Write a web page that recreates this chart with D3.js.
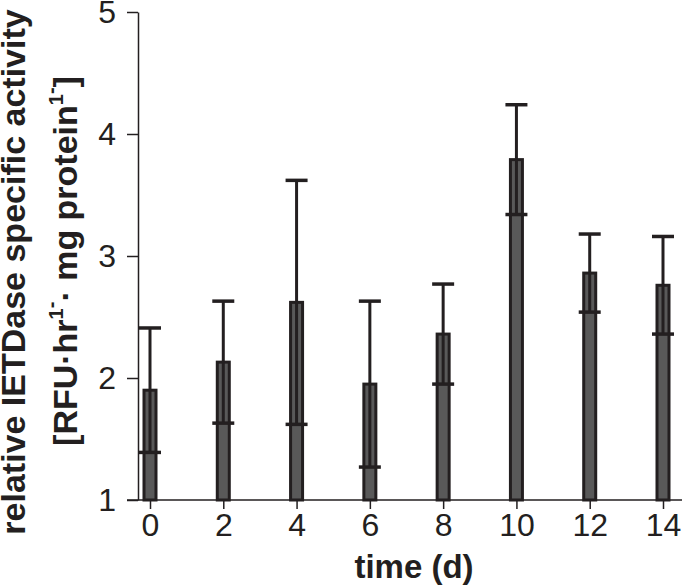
<!DOCTYPE html>
<html>
<head>
<meta charset="utf-8">
<script src="https://cdn.jsdelivr.net/npm/d3@7"></script>
<style>
  body { margin: 0; background: #fff; }
  svg { display: block; font-family: "Liberation Sans", Arial, sans-serif; }
</style>
</head>
<body>
<svg width="685" height="585"></svg>
<script>
// time points (days) and the measured activity
const days = [0, 2, 4, 6, 8, 10, 12, 14]
const means = [1.90, 2.13, 2.62, 1.95, 2.36, 3.79, 2.86, 2.76]
const errs = [0.51, 0.50, 1.00, 0.68, 0.41, 0.45, 0.32, 0.40]
const yTicks = [1, 2, 3, 4, 5]

const ink = "#231f20"
const svg = d3.select("svg")

const x = d3.scaleLinear().domain([0, 14]).range([150, 663])
const y = d3.scaleLinear().domain([1, 5]).range([500, 12])

// y axis
const yAxis = svg.append("g")
  .attr("transform", "translate(138,0)")
  .call(d3.axisLeft(y).tickValues(yTicks).tickFormat(d3.format("d"))
    .tickSize(11).tickSizeOuter(0).tickPadding(11))
yAxis.select(".domain").attr("stroke", ink).attr("stroke-width", 1.5)
yAxis.selectAll(".tick line").attr("stroke", ink).attr("stroke-width", 1.5)
yAxis.selectAll("text").attr("font-size", 32).attr("fill", ink)
  .attr("font-family", "Liberation Sans, Arial, sans-serif")

// x axis
const xAxis = svg.append("g")
  .attr("transform", "translate(0,500)")
  .call(d3.axisBottom(x).tickValues(days).tickFormat(d3.format("d"))
    .tickSize(9).tickSizeOuter(0).tickPadding(4))
xAxis.select(".domain").remove()
xAxis.append("line")
  .attr("x1", 127).attr("x2", 682)
  .attr("stroke", ink).attr("stroke-width", 1.5)
xAxis.selectAll(".tick line").attr("stroke", ink).attr("stroke-width", 1.5)
xAxis.selectAll("text").attr("font-size", 32).attr("fill", ink)
  .attr("font-family", "Liberation Sans, Arial, sans-serif")

// bars
const barW = 12
svg.append("g").selectAll("rect")
  .data(days)
  .join("rect")
    .attr("x", (d, i) => x(d) - barW / 2)
    .attr("y", (d, i) => y(means[i]))
    .attr("width", barW)
    .attr("height", (d, i) => y(1) - y(means[i]))
    .attr("fill", "#595959")
    .attr("stroke", ink)
    .attr("stroke-width", 3)

// error bars
const eb = svg.append("g").selectAll("g")
  .data(days)
  .join("g")
eb.append("line")
  .attr("x1", d => x(d)).attr("x2", d => x(d))
  .attr("y1", (d, i) => y(means[i] - errs[i]))
  .attr("y2", (d, i) => y(means[i] + errs[i]))
  .attr("stroke", ink).attr("stroke-width", 3)
eb.append("line")
  .attr("x1", d => x(d) - 11).attr("x2", d => x(d) + 11)
  .attr("y1", (d, i) => y(means[i] + errs[i]))
  .attr("y2", (d, i) => y(means[i] + errs[i]))
  .attr("stroke", ink).attr("stroke-width", 3.5)
eb.append("line")
  .attr("x1", d => x(d) - 11).attr("x2", d => x(d) + 11)
  .attr("y1", (d, i) => y(means[i] - errs[i]))
  .attr("y2", (d, i) => y(means[i] - errs[i]))
  .attr("stroke", ink).attr("stroke-width", 3.5)

// axis titles
svg.append("text")
  .attr("x", 414).attr("y", 578)
  .attr("text-anchor", "middle")
  .attr("font-size", 33).attr("font-weight", "bold").attr("fill", ink)
  .text("time (d)")

svg.append("text")
  .attr("transform", "translate(25,272) rotate(-90)")
  .attr("text-anchor", "middle")
  .attr("font-size", 34).attr("font-weight", "bold").attr("fill", ink)
  .text("relative IETDase specific activity")

const t2 = svg.append("text")
  .attr("transform", "translate(77,261) rotate(-90)")
  .attr("text-anchor", "middle")
  .attr("font-size", 34).attr("font-weight", "bold").attr("fill", ink)
t2.append("tspan").text("[RFU·hr")
t2.append("tspan").attr("font-size", 20).attr("dy", -14).text("1")
t2.append("tspan").attr("font-size", 20).attr("dy", -5).text("-")
t2.append("tspan").attr("dy", 19).text("· mg protein")
t2.append("tspan").attr("font-size", 20).attr("dy", -14).text("1")
t2.append("tspan").attr("font-size", 20).attr("dy", -5).text("-")
t2.append("tspan").attr("dy", 19).text("]")
</script>
</body>
</html>
